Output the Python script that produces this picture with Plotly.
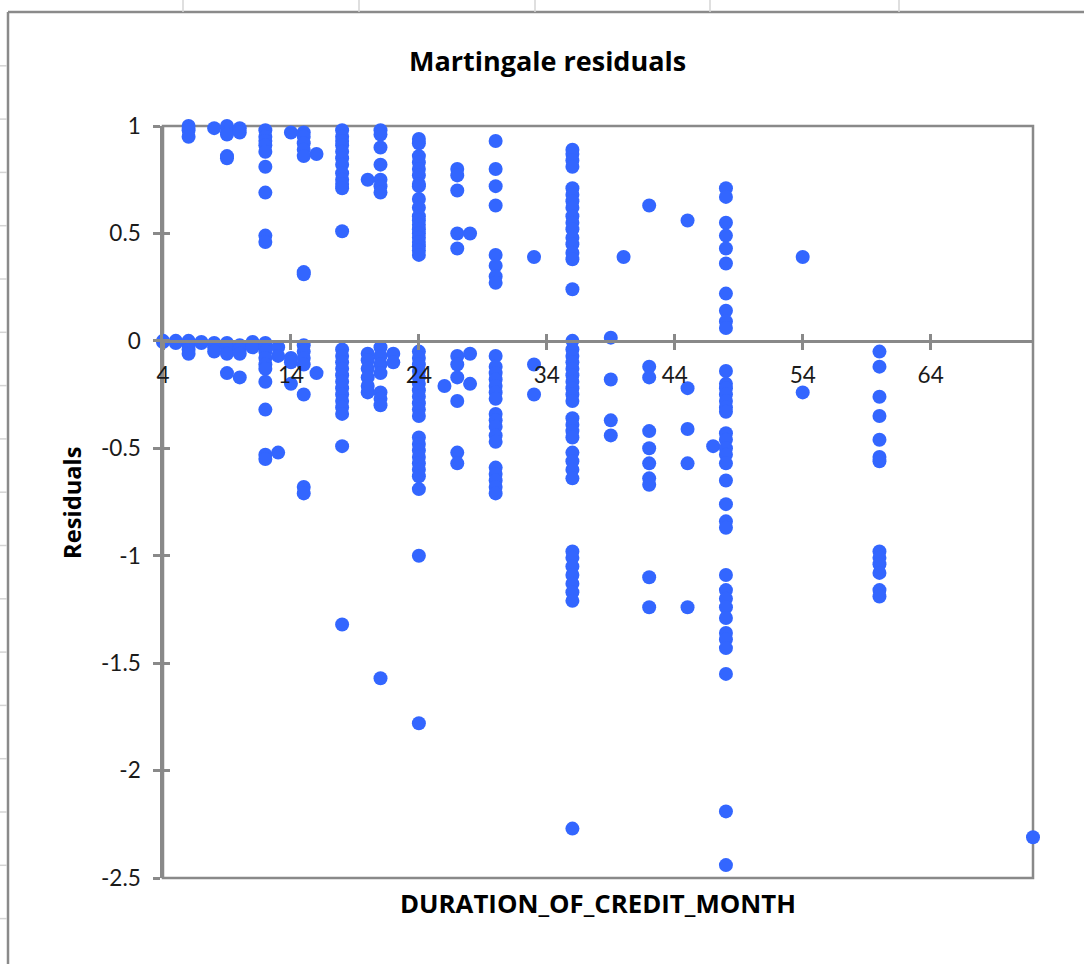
import plotly.graph_objects as go

# Martingale residuals grouped by credit duration (months)
res_m4 = [0.0, -0.005]
res_m5 = [0.0, -0.01]
res_m6 = [1.0, 0.98, 0.95, -0.0, -0.02, -0.04, -0.06]
res_m7 = [-0.005, -0.01]
res_m8 = [0.99, -0.01, -0.03, -0.05]
res_m9 = [1.0, 0.97, 0.96, 0.86, 0.85, -0.01, -0.03, -0.06, -0.15]
res_m10 = [0.99, 0.97, -0.02, -0.04, -0.06, -0.17]
res_m11 = [-0.005, -0.03]
res_m12 = [0.98, 0.95, 0.93, 0.91, 0.88, 0.81, 0.69, 0.49, 0.46,
           -0.01, -0.03, -0.05, -0.08, -0.11, -0.13, -0.19, -0.32, -0.53, -0.55]
res_m13 = [-0.03, -0.07, -0.52]
res_m14 = [0.97, -0.08, -0.1, -0.2]
res_m15 = [0.97, 0.95, 0.92, 0.89, 0.86, 0.32, 0.31,
           -0.02, -0.05, -0.08, -0.11, -0.25, -0.68, -0.71]
res_m16 = [0.87, -0.15]
res_m18 = [0.98, 0.95, 0.93, 0.91, 0.88, 0.85, 0.82, 0.78, 0.75, 0.73, 0.71, 0.51,
           -0.04, -0.07, -0.1, -0.13, -0.16, -0.19, -0.22, -0.25, -0.28, -0.31, -0.34,
           -0.49, -1.32]
res_m20 = [0.75, -0.06, -0.09, -0.13, -0.17, -0.21, -0.24]
res_m21 = [0.98, 0.96, 0.9, 0.82, 0.75, 0.72, 0.69,
           -0.03, -0.07, -0.11, -0.15, -0.24, -0.27, -0.3, -1.57]
res_m22 = [-0.06, -0.1]
res_m24 = [0.94, 0.92, 0.86, 0.83, 0.8, 0.77, 0.73, 0.72, 0.66, 0.62, 0.58, 0.56,
           0.54, 0.52, 0.5, 0.48, 0.46, 0.44, 0.42, 0.4,
           -0.05, -0.08, -0.11, -0.14, -0.17, -0.2, -0.23, -0.26, -0.29, -0.32, -0.35,
           -0.45, -0.48, -0.51, -0.54, -0.57, -0.6, -0.63, -0.69, -1.0, -1.78]
res_m26 = [-0.21]
res_m27 = [0.8, 0.77, 0.7, 0.5, 0.43, -0.07, -0.11, -0.17, -0.28, -0.52, -0.57]
res_m28 = [0.5, -0.06, -0.2]
res_m30 = [0.93, 0.8, 0.72, 0.63, 0.4, 0.35, 0.3, 0.27,
           -0.07, -0.12, -0.15, -0.18, -0.21, -0.24, -0.27, -0.34, -0.37, -0.4, -0.44,
           -0.47, -0.59, -0.62, -0.65, -0.68, -0.71]
res_m33 = [0.39, -0.11, -0.25]
res_m36 = [0.89, 0.87, 0.84, 0.81, 0.71, 0.68, 0.65, 0.62, 0.58, 0.55, 0.52, 0.48,
           0.45, 0.41, 0.38, 0.24,
           -0.0, -0.04, -0.07, -0.1, -0.13, -0.16, -0.19, -0.22, -0.25, -0.28,
           -0.36, -0.39, -0.42, -0.45, -0.52, -0.56, -0.6, -0.64,
           -0.98, -1.01, -1.05, -1.09, -1.13, -1.17, -1.21, -2.27]
res_m39 = [0.015, -0.18, -0.37, -0.44]
res_m40 = [0.39]
res_m42 = [0.63, -0.12, -0.17, -0.42, -0.5, -0.57, -0.64, -0.67, -1.1, -1.24]
res_m45 = [0.56, -0.22, -0.41, -0.57, -1.24]
res_m47 = [-0.49]
res_m48 = [0.71, 0.67, 0.55, 0.49, 0.43, 0.36, 0.22, 0.14, 0.09, 0.06,
           -0.14, -0.2, -0.22, -0.25, -0.28, -0.31, -0.33, -0.43, -0.46, -0.5, -0.53,
           -0.57, -0.65, -0.76, -0.84, -0.87, -1.09, -1.16, -1.2, -1.24, -1.29, -1.36,
           -1.39, -1.43, -1.55, -2.19, -2.44]
res_m54 = [0.39, -0.24]
res_m60 = [-0.05, -0.12, -0.26, -0.35, -0.46, -0.54, -0.56, -0.98, -1.01, -1.04,
           -1.08, -1.16, -1.19]
res_m72 = [-2.31]

months = [4, 5, 6, 7, 8, 9, 10, 11, 12, 13, 14, 15, 16, 18, 20, 21, 22, 24, 26, 27,
          28, 30, 33, 36, 39, 40, 42, 45, 47, 48, 54, 60, 72]
residual_groups = [res_m4, res_m5, res_m6, res_m7, res_m8, res_m9, res_m10, res_m11,
                   res_m12, res_m13, res_m14, res_m15, res_m16, res_m18, res_m20,
                   res_m21, res_m22, res_m24, res_m26, res_m27, res_m28, res_m30,
                   res_m33, res_m36, res_m39, res_m40, res_m42, res_m45, res_m47,
                   res_m48, res_m54, res_m60, res_m72]

x_ticks = [4, 14, 24, 34, 44, 54, 64]
y_ticks = [1, 0.5, 0, -0.5, -1, -1.5, -2, -2.5]
y_tick_text = ["1", "0.5", "0", "-0.5", "-1", "-1.5", "-2", "-2.5"]

duration = []
residual = []
for m, vals in zip(months, residual_groups):
    duration.extend([m] * len(vals))
    residual.extend(vals)

TICK_FONT = "Lato"
TITLE_FONT = "Open Sans"
AXIS_GREY = "#898989"
X_MIN, X_MAX = 4, 72
Y_MIN, Y_MAX = -2.5, 1
zero_pos = (0 - Y_MIN) / (Y_MAX - Y_MIN)

fig = go.Figure()
fig.add_trace(go.Scatter(
    x=duration, y=residual, mode="markers", cliponaxis=False,
    marker=dict(color="#3366FF", size=14, line=dict(width=0)),
    showlegend=False, xaxis="x", yaxis="y",
))

# Plot-area frame
fig.add_shape(type="rect", xref="paper", yref="paper", x0=0, x1=1, y0=0, y1=1,
              line=dict(color=AXIS_GREY, width=2.5), layer="below")

# Worksheet chart border and cell gridline stubs around it
page_left = -155 / 870
page_right = 921 / 870
page_top = 866 / 752
page_bottom = -86 / 752
fig.add_shape(type="line", xref="paper", yref="paper", x0=page_left, x1=page_right,
              y0=page_top, y1=page_top, line=dict(color="#8a8a8a", width=2.5))
fig.add_shape(type="line", xref="paper", yref="paper", x0=page_left, x1=page_left,
              y0=page_top, y1=page_bottom, line=dict(color="#8a8a8a", width=2.5))
for px in [183, 359, 535, 710, 899]:
    xp = (px - 163) / 870
    fig.add_shape(type="line", xref="paper", yref="paper", x0=xp, x1=xp,
                  y0=878 / 752, y1=866 / 752, line=dict(color="#d4d4d4", width=1.5))
for k in range(1, 18):
    py = 12.5 + 53.3 * k
    yp = (878 - py) / 752
    fig.add_shape(type="line", xref="paper", yref="paper", x0=-163 / 870,
                  x1=-156 / 870, y0=yp, y1=yp, line=dict(color="#d4d4d4", width=1.5))

axis_common = dict(range=[X_MIN, X_MAX], showgrid=False, zeroline=False,
                   tickvals=x_ticks, linecolor=AXIS_GREY, linewidth=2.5,
                   tickcolor=AXIS_GREY, tickwidth=2.5, ticklen=7)

fig.update_layout(
    width=1084, height=964, autosize=False,
    margin=dict(l=163, r=51, t=126, b=86),
    paper_bgcolor="white", plot_bgcolor="white",
    font=dict(family=TICK_FONT, color="#000000"),
    xaxis=dict(**axis_common, anchor="free", position=zero_pos, showline=True,
               ticks="outside", ticktext=[str(v) for v in x_ticks],
               tickfont=dict(size=22.5, family=TICK_FONT, color="#1a1a1a"),
               ticklabelstandoff=6),
    xaxis2=dict(**axis_common, anchor="free", position=zero_pos, overlaying="x",
                showline=False, ticks="inside", showticklabels=False),
    yaxis=dict(range=[Y_MIN, Y_MAX], showgrid=False, zeroline=False,
               tickvals=y_ticks, ticktext=y_tick_text, showline=True,
               linecolor=AXIS_GREY, linewidth=2.5, ticks="outside",
               tickcolor=AXIS_GREY, tickwidth=2.5, ticklen=7,
               tickfont=dict(size=22.5, family=TICK_FONT, color="#1a1a1a"),
               ticklabelstandoff=8),
    yaxis2=dict(range=[Y_MIN, Y_MAX], overlaying="y", side="left", showgrid=False,
                zeroline=False, tickvals=y_ticks, showline=False, ticks="inside",
                tickcolor=AXIS_GREY, tickwidth=2.5, ticklen=7, showticklabels=False),
)

# Invisible trace to register the overlay axes
fig.add_trace(go.Scatter(x=[None], y=[None], xaxis="x2", yaxis="y2",
                         showlegend=False, hoverinfo="skip"))

fig.add_annotation(text="<b>Martingale residuals</b>", xref="paper", yref="paper",
                   x=(547 - 163) / 870, y=(878 - 61) / 752, showarrow=False,
                   font=dict(size=27, family=TITLE_FONT), xanchor="center", yanchor="middle")
fig.add_annotation(text="<b>DURATION_OF_CREDIT_MONTH</b>", xref="paper", yref="paper",
                   x=0.5, y=(878 - 903) / 752, showarrow=False,
                   font=dict(size=25.8, family=TITLE_FONT), xanchor="center", yanchor="middle")
fig.add_annotation(text="<b>Residuals</b>", xref="paper", yref="paper",
                   x=(72 - 163) / 870, y=(878 - 503) / 752, showarrow=False,
                   textangle=-90, font=dict(size=23.7, family=TITLE_FONT),
                   xanchor="center", yanchor="middle")

fig.write_html("out.html")
